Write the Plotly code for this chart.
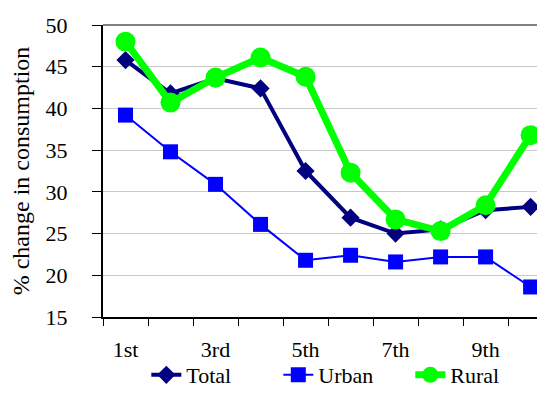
import plotly.graph_objects as go

deciles = ["1st", "2nd", "3rd", "4th", "5th", "6th", "7th", "8th", "9th", "10th"]
tick_labels = ["1st", "", "3rd", "", "5th", "", "7th", "", "9th", ""]
total = [45.8, 41.8, 43.6, 42.4, 32.5, 26.9, 25.0, 25.5, 27.8, 28.2]
urban = [39.2, 34.8, 30.9, 26.1, 21.8, 22.4, 21.6, 22.2, 22.2, 18.6]
rural = [48.0, 40.7, 43.7, 46.1, 43.8, 32.3, 26.7, 25.3, 28.4, 36.8]

FONT = "Liberation Serif, Times New Roman, serif"

fig = go.Figure()
fig.add_trace(go.Scatter(
    x=deciles, y=total, name="Total", mode="lines+markers",
    line=dict(color="#000080", width=4),
    marker=dict(symbol="diamond", size=14, color="#000080"),
))
fig.add_trace(go.Scatter(
    x=deciles, y=urban, name="Urban", mode="lines+markers",
    line=dict(color="#0000FF", width=2),
    marker=dict(symbol="square", size=15, color="#0000FF"),
))
fig.add_trace(go.Scatter(
    x=deciles, y=rural, name="Rural", mode="lines+markers",
    line=dict(color="#00FF00", width=7),
    marker=dict(symbol="circle", size=20, color="#00FF00"),
))

fig.add_shape(type="line", xref="paper", yref="paper", x0=0, x1=1, y0=1, y1=1,
              line=dict(color="#808080", width=2))

fig.update_layout(
    width=537, height=388,
    margin=dict(l=95, r=0, t=17, b=79, autoexpand=False),
    paper_bgcolor="white", plot_bgcolor="white",
    font=dict(family=FONT, size=22, color="black"),
    showlegend=True,
    legend=dict(orientation="h", x=0.098, xanchor="left",
                yref="container", y=-0.012, yanchor="bottom",
                font=dict(size=22), entrywidth=87, entrywidthmode="pixels",
                bgcolor="rgba(0,0,0,0)", borderwidth=0),
)
fig.update_xaxes(
    type="category", range=[-0.5, 9.32],
    tickmode="array", tickvals=deciles, ticktext=tick_labels,
    tickson="boundaries", ticks="outside", ticklen=7, tickcolor="black", tickwidth=1,
    showline=True, linecolor="black", linewidth=2,
    showgrid=False, zeroline=False,
    tickfont=dict(size=22), ticklabelstandoff=12,
)
fig.update_yaxes(
    range=[15, 50], dtick=5, tick0=15,
    ticks="outside", ticklen=9, tickcolor="black", tickwidth=1,
    showline=True, linecolor="black", linewidth=2,
    showgrid=True, gridcolor="#C8C8C8", gridwidth=1, zeroline=False,
    tickfont=dict(size=22), ticklabelstandoff=20,
    title=dict(text="% change in consumption", font=dict(size=24), standoff=10),
)

fig.write_html("out.html")
